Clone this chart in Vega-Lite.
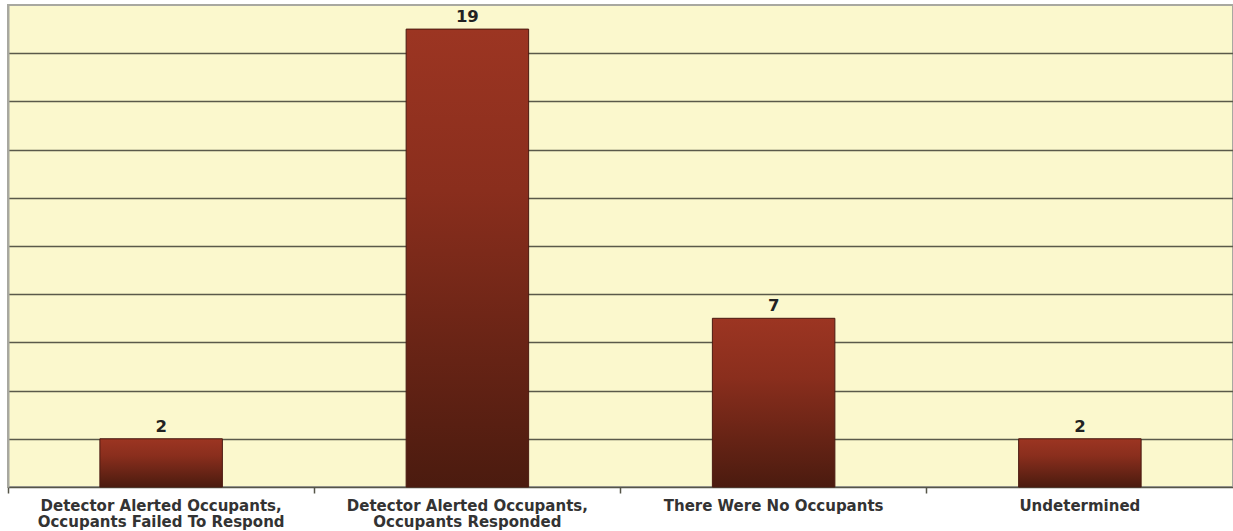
{
  "$schema": "https://vega.github.io/schema/vega-lite/v6.json",
  "autosize": "none",
  "width": 1225,
  "height": 482,
  "padding": {"left": 8, "top": 5, "right": 0, "bottom": 44},
  "background": "#ffffff",
  "config": {
    "view": {"fill": "#FBF8CD", "stroke": "#A8A8A0", "strokeWidth": 2},
    "font": "DejaVu Sans"
  },
  "data": {
    "values": [
      {"category": "Detector Alerted Occupants,|Occupants Failed To Respond", "count": 2},
      {"category": "Detector Alerted Occupants,|Occupants Responded", "count": 19},
      {"category": "There Were No Occupants", "count": 7},
      {"category": "Undetermined", "count": 2}
    ]
  },
  "resolve": {"axis": {"x": "independent"}},
  "layer": [
    {
      "mark": {"type": "bar",
        "color": {"gradient": "linear", "x1": 0, "y1": 0, "x2": 0, "y2": 1,
          "stops": [
            {"offset": 0, "color": "#9C3522"},
            {"offset": 0.35, "color": "#8A2E1D"},
            {"offset": 1, "color": "#4B1B0F"}
          ]},
        "stroke": "#4A1A10", "strokeWidth": 1},
      "encoding": {
        "x": {"field": "category", "type": "nominal", "sort": null,
          "scale": {"paddingInner": 0.6, "paddingOuter": 0.3},
          "axis": {"title": null, "labelExpr": "split(datum.label, '|')", "labelAngle": 0,
            "labelFont": "DejaVu Sans", "labelFontWeight": "bold", "labelFontSize": 15,
            "labelColor": "#333333", "labelLineHeight": 16, "labelPadding": 11,
            "ticks": false, "domainColor": "#555548", "domainWidth": 1.5, "labelLimit": 400}},
        "y": {"field": "count", "type": "quantitative", "scale": {"domain": [0, 20], "nice": false},
          "axis": {"title": null, "labels": false, "ticks": false, "domainColor": "#A8A8A0", "domainWidth": 2,
            "values": [2, 4, 6, 8, 10, 12, 14, 16, 18], "grid": true, "gridColor": "#5A5A4A", "gridWidth": 1.5, "gridOpacity": 1}}
      }
    },
    {
      "mark": {"type": "text", "baseline": "alphabetic", "dy": -7, "font": "DejaVu Sans",
        "fontWeight": "bold", "fontSize": 16.5, "color": "#222222"},
      "encoding": {
        "x": {"field": "category", "type": "nominal", "sort": null,
          "axis": {"title": null, "orient": "bottom", "labels": false, "ticks": true, "bandPosition": -0.75, "tickSize": 6,
            "tickColor": "#555548", "tickWidth": 1.5, "domain": false}},
        "y": {"field": "count", "type": "quantitative"},
        "text": {"field": "count", "type": "quantitative"}
      }
    }
  ]
}
